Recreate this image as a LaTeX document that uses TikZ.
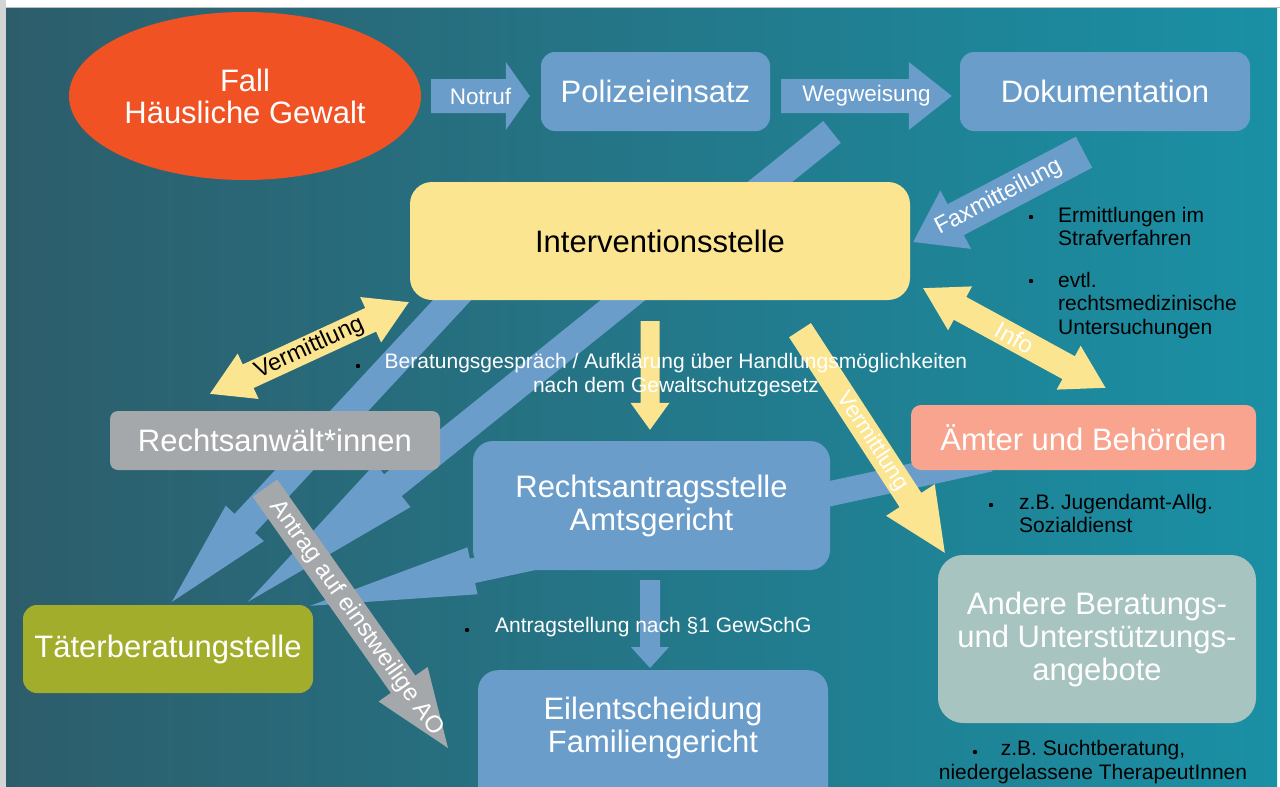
\documentclass[tikz,border=0pt]{standalone}
\usepackage{fontspec}
\setmainfont{Liberation Sans}
\usetikzlibrary{calc,positioning,shapes.geometric}

\definecolor{bgleft}{HTML}{2D5D6B}
\definecolor{bgright}{HTML}{1A90A5}
\definecolor{polblue}{HTML}{6B9DCB}
\definecolor{ivyellow}{HTML}{FCE590}
\definecolor{fallred}{HTML}{F15223}
\definecolor{rgray}{HTML}{A5A8AB}
\definecolor{tbolive}{HTML}{A2AE2B}
\definecolor{salmonbox}{HTML}{F8A48E}
\definecolor{sagebox}{HTML}{A8C4C0}

\newcommand{\boxfont}{\fontsize{31}{33}\selectfont}
\newcommand{\notefont}{\fontsize{21}{23.5}\selectfont}
\newcommand{\lblfont}{\fontsize{22.5}{26}\selectfont}

\pgfdeclarelayer{bg}
\pgfdeclarelayer{back}
\pgfsetlayers{bg,back,main}

% style, tail, tip, shaft half width, head half width, head length
\newcommand{\blockarrow}[6]{%
  \coordinate (hb) at ($(#3)!#6!(#2)$);
  \fill[#1] ($(#2)!#4!90:(#3)$) -- ($(hb)!#4!90:(#3)$) -- ($(hb)!#5!90:(#3)$) -- (#3)
    -- ($(hb)!#5!-90:(#3)$) -- ($(hb)!#4!-90:(#3)$) -- ($(#2)!#4!-90:(#3)$) -- cycle;}
\newcommand{\dblarrow}[6]{%
  \coordinate (hb1) at ($(#2)!#6!(#3)$);
  \coordinate (hb2) at ($(#3)!#6!(#2)$);
  \fill[#1] (#2) -- ($(hb1)!#5!90:(#3)$) -- ($(hb1)!#4!90:(#3)$) -- ($(hb2)!#4!90:(#3)$)
    -- ($(hb2)!#5!90:(#3)$) -- (#3) -- ($(hb2)!#5!-90:(#3)$) -- ($(hb2)!#4!-90:(#3)$)
    -- ($(hb1)!#4!-90:(#3)$) -- ($(hb1)!#5!-90:(#3)$) -- cycle;}

\begin{document}
\begin{tikzpicture}[x=1pt,y=-1pt,
  box/.style={rectangle,rounded corners=#1,inner sep=0pt,align=center,text=white,font=\boxfont},
  box/.default=14pt,
  note/.style={inner sep=0pt,font=\notefont,text=black},
  lbl/.style={inner sep=0pt,font=\lblfont,text=white}]
\useasboundingbox (0,0) rectangle (1280,787);
\clip (0,0) rectangle (1280,787);
%frame and background
\begin{pgfonlayer}{bg}
\fill[white] (0,0) rectangle (1280,787);
\fill[black!17] (0,0) rectangle (6,787);
\shade[left color=bgleft,right color=bgright] (6,7) rectangle (1277,787);
\draw[black!25] (6,7) -- (1280,7);
\end{pgfonlayer}
%boxes
\node[ellipse,fill=fallred,minimum width=352pt,minimum height=168pt,inner sep=0pt,align=center,text=white,font=\fontsize{31}{32}\selectfont] (fall) at (245,96) {Fall\\Häusliche Gewalt};
\node[box,fill=polblue,minimum width=229pt,minimum height=79pt] (polizei) at (655.5,91.5) {Polizeieinsatz};
\node[box,fill=polblue,minimum width=290pt,minimum height=79pt] (doku) at (1105,91.5) {Dokumentation};
\node[box=22pt,fill=ivyellow,text=black,minimum width=500pt,minimum height=118pt] (inter) at (660,241) {Interventionsstelle};
\node[box=8pt,fill=rgray,minimum width=330pt,minimum height=59pt] (anwalt) at (275,440.5) {Rechtsanwält*innen};
\node[box=10pt,fill=salmonbox,minimum width=345pt,minimum height=65pt] (aemter) at (1083.5,437.5) {Ämter und Behörden};
\node[box=20pt,fill=polblue,minimum width=357pt,minimum height=129pt] (antrag) at (651.5,505.5) {Rechtsantragsstelle\\Amtsgericht};
\node[box=25pt,fill=sagebox,minimum width=318pt,minimum height=168pt] (andere) at (1097,639) {Andere Beratungs-\\und Unterstützungs-\\angebote};
\node[box,fill=tbolive,minimum width=290pt,minimum height=88pt] (taeter) at (168,649) {Täterberatungstelle};
\node[box=20pt,fill=polblue,minimum width=350pt,minimum height=150pt,anchor=north] (eil) at (653,670) {};
\node[box] (eiltext) at ($(eil.north)+(0,57.5)$) {Eilentscheidung\\Familiengericht};
%arrow ends
\coordinate (notruf-s) at ($(fall.east)+(10,0)$);
\coordinate (notruf-e) at ($(polizei.west)+(-11,4.5)$);
\coordinate (weg-s) at ($(polizei.east)+(11,4.5)$);
\coordinate (weg-e) at ($(doku.west)+(-8,4.5)$);
\coordinate (fax-s) at ($(doku.south)+(-21,21)$);
\coordinate (fax-e) at ($(inter.east)+(3,1)$);
\coordinate (info-s) at ($(inter.south east)+(13,-12)$);
\coordinate (info-e) at ($(aemter.north)+(22,-17)$);
\coordinate (verm-s) at ($(inter.south west)+(-1,2)$);
\coordinate (verm-e) at ($(anwalt.north)+(-65,-17)$);
\coordinate (bera-s) at ($(inter.south)+(-10,21)$);
\coordinate (bera-e) at ($(antrag.north)+(-1.5,-11)$);
\coordinate (verm2-s) at ($(inter.south)+(140,30)$);
\coordinate (verm2-e) at ($(andere.north west)+(7,-2)$);
\coordinate (gew-s) at ($(antrag.south)+(-1.5,10)$);
\coordinate (gew-e) at ($(eil.north)+(-3,-2)$);
\coordinate (ao-s) at ($(anwalt.south)+(-10,18)$);
\coordinate (ao-e) at (448,748);
\coordinate (tA-s) at ($(inter.south west)+(135,-100)$);
\coordinate (tA-e) at ($(taeter.north)+(4,-3)$);
\coordinate (tB-s) at (832,132);
\coordinate (tB-e) at ($(taeter.north)+(80,-3)$);
\coordinate (tC-s) at ($(aemter.south west)+(79,-11)$);
\coordinate (tC-e) at ($(taeter.north east)+(-3,1)$);
%long bands behind the boxes
\begin{pgfonlayer}{back}
\blockarrow{polblue}{tA-s}{tA-e}{14pt}{26pt}{107pt}
\blockarrow{polblue}{tB-s}{tB-e}{14pt}{28pt}{186pt}
\blockarrow{polblue}{tC-s}{tC-e}{12.5pt}{24pt}{166pt}
\end{pgfonlayer}
%blue arrows
\blockarrow{polblue}{notruf-s}{notruf-e}{17pt}{34pt}{24pt}
\blockarrow{polblue}{weg-s}{weg-e}{17pt}{34pt}{43pt}
\blockarrow{polblue}{fax-s}{fax-e}{17.5pt}{33pt}{48pt}
\blockarrow{polblue}{gew-s}{gew-e}{10pt}{19pt}{21pt}
\blockarrow{rgray}{ao-s}{ao-e}{15pt}{30pt}{78pt}
%yellow arrows
\dblarrow{ivyellow}{verm-e}{verm-s}{13pt}{25pt}{42pt}
\dblarrow{ivyellow}{info-s}{info-e}{13pt}{25pt}{42pt}
\blockarrow{ivyellow}{bera-s}{bera-e}{9.5pt}{19.5pt}{27pt}
\blockarrow{ivyellow}{verm2-s}{verm2-e}{13pt}{29pt}{63pt}
%arrow labels
\path (notruf-s) -- (notruf-e) node[midway,lbl] {Notruf};
\path (weg-s) -- (weg-e) node[midway,lbl] {Wegweisung};
\path (fax-s) -- (fax-e) node[midway,sloped,lbl,font=\fontsize{23.5}{26}\selectfont] {Faxmitteilung};
\path (info-s) -- (info-e) node[midway,sloped,lbl,font=\fontsize{24}{26}\selectfont] {Info};
\path (verm-e) -- (verm-s) node[midway,sloped,lbl,text=black,font=\fontsize{23.5}{26}\selectfont] {Vermittlung};
\path (verm2-s) -- (verm2-e) node[midway,sloped,lbl] {Vermittlung};
\path (ao-s) -- (ao-e) node[midway,sloped,lbl,font=\fontsize{24}{26}\selectfont] {Antrag auf einstweilige AO};
%bullet notes
\foreach \p in {(1031,217),(1031,281),(358,366),(991,505),(467,630),(975,752)}
  \fill \p circle (2.2pt);
\node[note,anchor=north west,align=left] (ermitt) at (1058,207) {Ermittlungen im\\Strafverfahren};
\node[note,anchor=north west,align=left] (rmed) at (1058,272) {evtl.\\rechtsmedizinische\\Untersuchungen};
\node[note,text=white,align=center] (beratung) at (676,375) {Beratungsgespräch / Aufklärung über Handlungsmöglichkeiten\\nach dem Gewaltschutzgesetz};
\node[note,anchor=north west,align=left] (jugend) at (1019,494) {z.B. Jugendamt-Allg.\\Sozialdienst};
\node[note,text=white,anchor=west] (gewsch) at (495,627) {Antragstellung nach §1 GewSchG};
\node[note,align=center] (sucht) at (1093,762) {z.B. Suchtberatung,\\niedergelassene TherapeutInnen};
\end{tikzpicture}
\end{document}
